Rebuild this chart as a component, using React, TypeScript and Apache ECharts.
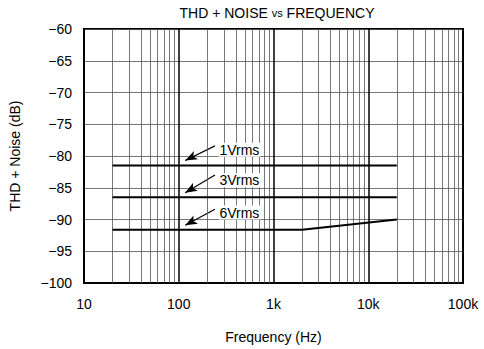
import React, { useEffect, useRef } from "react";
import * as echarts from "echarts";

const freqs1 = [20, 20000];
const vals1 = [-81.5, -81.5];
const freqs3 = [20, 20000];
const vals3 = [-86.5, -86.5];
const freqs6 = [20, 2000, 20000];
const vals6 = [-91.6, -91.6, -90.0];
const seriesNames = ["1Vrms", "3Vrms", "6Vrms"];
// label anchor [freq, dB], arrow tail [freq, dB], arrow tip [freq, dB]
const labelPos: [number, number][] = [[262, -79.0], [262, -83.8], [262, -88.9]];
const arrowTail: [number, number][] = [[241, -78.4], [241, -83.0], [241, -88.4]];
const arrowTip: [number, number][] = [[117, -80.7], [117, -85.8], [117, -90.9]];
const minorFreqs: number[] = [];
for (const d of [10, 100, 1000, 10000]) for (let k = 2; k <= 9; k++) minorFreqs.push(d * k);
const xTickLabels: Record<number, string> = { 10: "10", 100: "100", 1000: "1k", 10000: "10k", 100000: "100k" };

const FONT = "Liberation Sans, Arial, Helvetica, sans-serif";
const FS = 14;

export default function App() {
  const ref = useRef<HTMLDivElement>(null);
  useEffect(() => {
    const chart = echarts.init(ref.current!, undefined, { renderer: "svg" });
    const lineData = [
      freqs1.map((f, i) => [f, vals1[i]]),
      freqs3.map((f, i) => [f, vals3[i]]),
      freqs6.map((f, i) => [f, vals6[i]]),
    ];
    const series: any[] = lineData.map((d, i) => ({
      type: "line",
      name: seriesNames[i],
      data: d,
      showSymbol: false,
      lineStyle: { color: "#000", width: 2 },
      silent: true,
      z: 5,
      markLine: {
        silent: true,
        symbol: ["none", "arrow"],
        symbolSize: [7, 12],
        lineStyle: { color: "#000", width: 1.2, type: "solid" },
        label: { show: false },
        data: [[{ coord: arrowTail[i] }, { coord: arrowTip[i] }]],
      },
      markPoint: {
        silent: true,
        symbol: "circle",
        symbolSize: 0,
        label: {
          show: true,
          position: "right",
          distance: 0,
          formatter: seriesNames[i],
          color: "#000",
          fontFamily: FONT,
          fontSize: FS,
          backgroundColor: "#fff",
          padding: [0, 1],
        },
        data: [{ coord: labelPos[i] }],
      },
    }));
    series.push({
      type: "line",
      data: [],
      silent: true,
      markLine: {
        silent: true,
        symbol: "none",
        label: { show: false },
        lineStyle: { color: "#555", width: 0.8, type: "solid" },
        data: minorFreqs.map((f) => ({ xAxis: f })),
      },
      z: 1,
    });
    chart.setOption({
      animation: false,
      title: {
        text: "THD + NOISE {s|vs} FREQUENCY",
        left: 272,
        textAlign: "center",
        top: 1,
        textStyle: {
          fontFamily: FONT,
          fontSize: FS,
          fontWeight: "normal",
          color: "#000",
          rich: { s: { fontFamily: FONT, fontSize: 11, color: "#000" } },
        },
      },
      grid: { left: 81, right: 21, top: 29, bottom: 61, show: true, borderColor: "#000", borderWidth: 2 },
      xAxis: {
        type: "log",
        logBase: 10,
        min: 10,
        max: 100000,
        name: "Frequency (Hz)",
        nameLocation: "middle",
        nameGap: 47,
        nameTextStyle: { fontFamily: FONT, fontSize: FS, color: "#000" },
        axisLine: { show: true, lineStyle: { color: "#000", width: 2 } },
        axisTick: { show: false },
        axisLabel: {
          margin: 14,
          fontFamily: FONT,
          fontSize: FS,
          color: "#000",
          formatter: (v: number) => xTickLabels[Math.round(v)] ?? "",
        },
        splitLine: { show: true, lineStyle: { color: "#000", width: 1.5 } },
      },
      yAxis: {
        type: "value",
        min: -100,
        max: -60,
        interval: 5,
        name: "THD + Noise (dB)",
        nameLocation: "middle",
        nameGap: 62,
        nameTextStyle: { fontFamily: FONT, fontSize: FS, color: "#000" },
        axisLine: { show: true, lineStyle: { color: "#000", width: 2 } },
        axisTick: { show: false },
        axisLabel: {
          margin: 12,
          fontFamily: FONT,
          fontSize: FS,
          color: "#000",
          formatter: (v: number) => String(v).replace("-", "\u2212"),
        },
        splitLine: { show: true, lineStyle: { color: "#555", width: 0.8 } },
      },
      series,
    });
    return () => chart.dispose();
  }, []);
  return <div ref={ref} style={{ width: 484, height: 349, position: "absolute", left: 0, top: 0 }} />;
}
